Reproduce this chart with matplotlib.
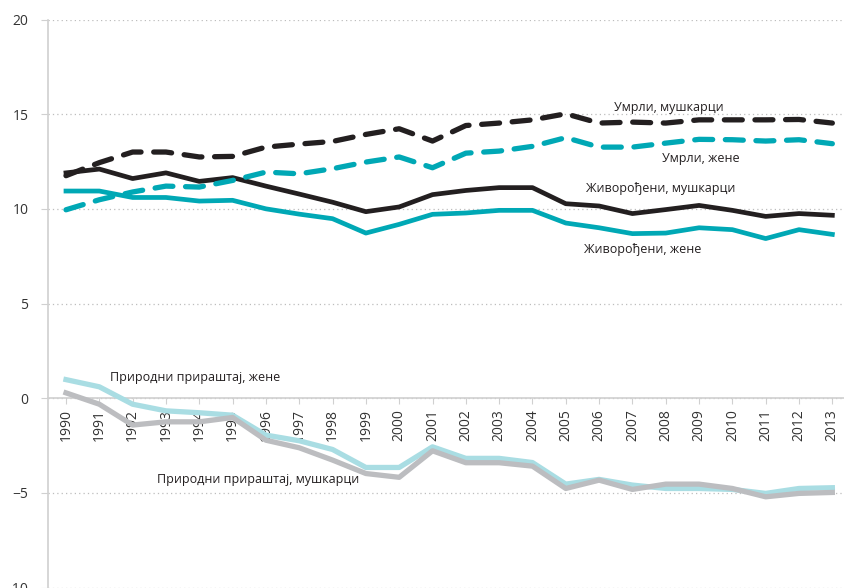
import matplotlib
matplotlib.use('Agg')
import matplotlib.pyplot as plt
import numpy as np

years = [str(y) for y in range(1990, 2014)]

births_male = [11.9, 12.1, 11.6, 11.9, 11.45, 11.65, 11.2, 10.78, 10.35, 9.85, 10.1, 10.75,
               10.97, 11.12, 11.12, 10.27, 10.15, 9.75, 9.96, 10.18, 9.92, 9.6, 9.75, 9.66]
births_female = [10.94, 10.94, 10.6, 10.6, 10.41, 10.45, 10.0, 9.72, 9.48, 8.72, 9.18, 9.71,
                 9.78, 9.92, 9.92, 9.25, 9.0, 8.69, 8.72, 9.0, 8.9, 8.43, 8.9, 8.65]
deaths_male = [11.75, 12.44, 13.0, 13.0, 12.74, 12.77, 13.26, 13.42, 13.56, 13.93, 14.23, 13.58,
               14.4, 14.53, 14.7, 15.02, 14.53, 14.58, 14.53, 14.7, 14.7, 14.7, 14.72, 14.53]
deaths_female = [9.95, 10.48, 10.89, 11.2, 11.15, 11.5, 11.94, 11.85, 12.12, 12.47, 12.74, 12.17,
                 12.94, 13.05, 13.3, 13.76, 13.26, 13.26, 13.47, 13.67, 13.65, 13.58, 13.65, 13.44]
natural_female = [0.98, 0.6, -0.32, -0.67, -0.77, -0.9, -1.95, -2.25, -2.71, -3.66, -3.66, -2.57,
                  -3.18, -3.18, -3.4, -4.54, -4.29, -4.59, -4.77, -4.77, -4.82, -5.03, -4.77, -4.73]
natural_male = [0.28, -0.32, -1.42, -1.25, -1.25, -1.02, -2.22, -2.62, -3.27, -3.98, -4.18, -2.78,
                -3.41, -3.41, -3.59, -4.77, -4.33, -4.82, -4.54, -4.54, -4.77, -5.21, -5.03, -4.98]

black = '#231f20'
teal = '#00a8b5'
light_teal = '#a9dde3'
gray = '#bcbdc0'

plt.rcParams['font.family'] = ['Open Sans', 'DejaVu Sans']

fig = plt.figure(figsize=(8.44, 5.88), dpi=100)
ax = fig.add_axes([48 / 844, 0.5 / 588, (844 - 48) / 844, 568 / 588])

x = np.arange(len(years))
ax.plot(x, natural_female, color=light_teal, lw=3.8, solid_joinstyle='round', zorder=3)
ax.plot(x, natural_male, color=gray, lw=3.8, solid_joinstyle='round', zorder=3)
ax.plot(x, births_female, color=teal, lw=3.4, solid_joinstyle='round', zorder=3)
ax.plot(x, births_male, color=black, lw=3.4, solid_joinstyle='round', zorder=3)
ax.plot(x, deaths_female, color=teal, lw=3.8, ls=(0, (3.4, 2.4)), dash_capstyle='round', zorder=3)
ax.plot(x, deaths_male, color=black, lw=3.8, ls=(0, (3.4, 2.4)), dash_capstyle='round', zorder=3)

ax.set_xlim(-0.54, 23.35)
ax.set_ylim(-10, 20)
ax.set_yticks([-10, -5, 0, 5, 10, 15, 20])
ax.set_xticks(x)
ax.set_xticklabels(years)
ax.tick_params(axis='y', labelsize=10, colors='#333333', length=5, color='#d0d0d0', pad=9)
ax.tick_params(axis='x', labelsize=10, labelcolor='#333333', length=4, color='#d0d0d0',
               pad=4, direction='out', labelrotation=90)

ax.grid(axis='y', ls=(0, (1, 2.5)), color='#bdbdbd', lw=0.9, zorder=0)
ax.spines['top'].set_visible(False)
ax.spines['right'].set_visible(False)
ax.spines['left'].set_color('#d0d0d0')
ax.spines['left'].set_linewidth(1.2)
ax.spines['bottom'].set_position(('data', 0))
ax.spines['bottom'].set_color('#d0d0d0')
ax.spines['bottom'].set_linewidth(1.2)

fs = 9
tc = '#231f20'
ax.text(18.08, 15.36, 'Умрли, мушкарци', ha='center', va='center', fontsize=fs, color=tc)
ax.text(19.04, 12.66, 'Умрли, жене', ha='center', va='center', fontsize=fs, color=tc)
ax.text(17.84, 11.08, 'Живорођени, мушкарци', ha='center', va='center', fontsize=fs, color=tc)
ax.text(17.3, 7.86, 'Живорођени, жене', ha='center', va='center', fontsize=fs, color=tc)
ax.text(3.87, 1.11, 'Природни прираштај, жене', ha='center', va='center', fontsize=fs, color=tc)
ax.text(5.77, -4.27, 'Природни прираштај, мушкарци', ha='center', va='center', fontsize=fs, color=tc)

fig.savefig('out.png', dpi=100)
